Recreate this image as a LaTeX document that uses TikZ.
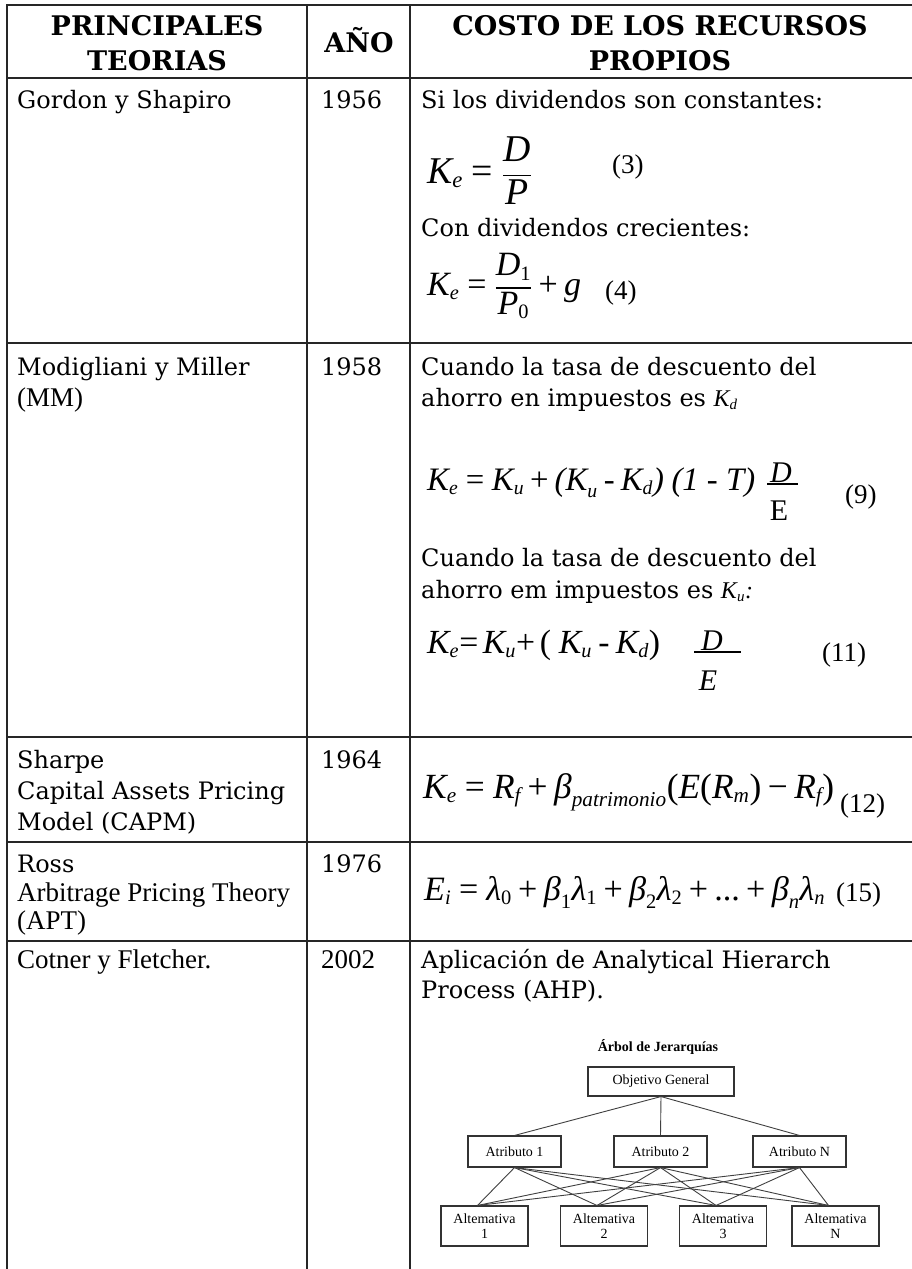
\documentclass[tikz,border=0pt]{standalone}
\usepackage{amsmath}
\usepackage{fontspec}
\setmainfont{DejaVu Serif}
\newfontfamily\tnr{Liberation Serif}
\usetikzlibrary{calc}

% type sizes (1pt = 1 unit of the picture)
\newcommand\bodysize{\fontsize{24}{30}\selectfont}
\newcommand\headsize{\fontsize{27}{35}\selectfont}
\newcommand\tnrsize{\fontsize{27}{30}\selectfont}
\newcommand\fsize{\fontsize{30}{36}\selectfont}
\newcommand\treesize{\fontsize{14}{14.5}\selectfont}
% smaller indices in formulas
\DeclareMathSizes{30}{30}{18}{14}
\DeclareMathSizes{24}{24}{15}{12}
% formula letters in Times-like italic / upright
\newcommand\vi[1]{\text{\tnr\itshape #1}}
\newcommand\vu[1]{\text{\tnr #1}}

\tikzset{
  rule/.style={line width=2.8pt, draw=black!85, line cap=rect},
  cell/.style={inner sep=0pt, anchor=base west, font=\bodysize},
  celltnr/.style={inner sep=0pt, anchor=base west, font=\tnr\tnrsize},
  head/.style={inner sep=0pt, anchor=base, font=\headsize\bfseries},
  fml/.style={inner sep=0pt, anchor=base west, font=\fsize},
  fpart/.style={inner sep=0pt, anchor=base, font=\tnr\fsize},
  eqno/.style={inner sep=0pt, anchor=base west, font=\tnr\tnrsize},
  fbar/.style={line width=1.3pt, draw=black},
  tbox/.style={draw=black!80, line width=1.1pt, inner sep=0pt, font=\tnr\treesize, align=center},
  tlink/.style={draw=black!75, line width=0.9pt},
}

\begin{document}
\begin{tikzpicture}[x=1pt,y=-1pt]
\useasboundingbox (0,0) rectangle (911,1269);
\fill[white] (0,0) rectangle (911,1269);

% ---- table rules ----
\foreach \yy in {5,78,343,737,842,941}
  \draw[rule] (7,\yy) -- (911,\yy);
\foreach \xx in {7,307,410}
  \draw[rule] (\xx,5) -- (\xx,1269);

% ---- header ----
\node[head] (hA1) at (157,35) {PRINCIPALES};
\node[head] (hA2) at (157,70) {TEORIAS};
\node[head] (hB)  at (359,52) {AÑO};
\node[head] (hC1) at (660,35) {COSTO DE LOS RECURSOS};
\node[head] (hC2) at (660,70) {PROPIOS};

% ---- Gordon y Shapiro ----
\node[cell] (g1) at (17,108) {Gordon y Shapiro};
\node[cell] (y1) at (321,108) {1956};
\node[cell] (t1a) at (421,108) {Si los dividendos son constantes:};
\node[fml] (f3) at (427,183) {\resizebox{105pt}{!}{$\vi{K}_{\vi{e}}\mathrel{\vu{=}}\dfrac{\vi{D}}{\vi{P}}$}};
\node[eqno] (n3) at (612,173) {(3)};
\node[cell] (t1b) at (421,236) {Con dividendos crecientes:};
\node[fml] (f4) at (427,295) {\resizebox{154pt}{!}{$\vi{K}_{\vi{e}}\mathrel{\vu{=}}\dfrac{\vi{D}_{\vu{1}}}{\vi{P}_{\vu{0}}}\mathbin{\vu{+}}\vi{g}$}};
\node[eqno] (n4) at (605,299) {(4)};

% ---- Modigliani y Miller ----
\node[cell] (g2a) at (17,375) {Modigliani y Miller};
\node[celltnr] (g2b) at (17,406) {(MM)};
\node[cell] (y2) at (321,375) {1958};
\node[cell] (t2a) at (421,375) {Cuando la tasa de descuento del};
\node[cell] (t2b) at (421,406) {ahorro en impuestos es $\vi{K}_{\vi{d}}$};
\node[fml] (f9) at (427,490) {\resizebox{328pt}{!}{$\vi{K}_{\vi{e}}\mathrel{\vu{=}}\vi{K}_{\vi{u}}\mathbin{\vu{+}}\vi{(K}_{\vi{u}}\mathbin{\vu{-}}\vi{K}_{\vi{d}}\vi{)}\;\vi{(1 - T)}$}};
\node[fpart] (d9) at (781,482) {\itshape D};
\node[fpart] (e9) at (779,520) {E};
\draw[fbar] ($(d9.base)+(-14,2)$) -- ($(d9.base)+(17,2)$);
\node[eqno] (n9) at (845,503) {(9)};
\node[cell] (t2c) at (421,566) {Cuando la tasa de descuento del};
\node[cell] (t2d) at (421,598) {ahorro em impuestos es $\vi{K}_{\vi{u}}$\vi{:}};
\node[fml] (f11) at (427,653) {\resizebox{233pt}{!}{$\vi{K}_{\vi{e}}\vu{=}\,\vi{K}_{\vi{u}}\vu{+}\,\vu{(}\;\vi{K}_{\vi{u}}\mathbin{\vu{-}}\vi{K}_{\vi{d}}\vu{)}$}};
\node[fpart] (d11) at (712,650) {\itshape D};
\node[fpart] (e11) at (708,690) {\itshape E};
\draw[fbar] ($(d11.base)+(-18,2)$) -- ($(d11.base)+(29,2)$);
\node[eqno] (n11) at (822,661) {(11)};

% ---- Sharpe ----
\node[cell] (g3a) at (17,768) {Sharpe};
\node[cell] (g3b) at (17,799) {Capital Assets Pricing};
\node[cell] (g3c) at (17,830) {Model (CAPM)};
\node[cell] (y3) at (321,768) {1964};
\node[fml] (f12) at (423,798) {\resizebox{411pt}{!}{$\vi{K}_{\vi{e}}\mathrel{\vu{=}}\vi{R}_{\vi{f}}\mathbin{\vu{+}}\vi{β}_{\vi{patrimonio}}\vu{(}\vi{E}\vu{(}\vi{R}_{\vi{m}}\vu{)}\mathbin{\vu{−}}\vi{R}_{\vi{f}}\vu{)}$}};
\node[eqno] (n12) at (840,812) {(12)};

% ---- Ross ----
\node[cell] (g4a) at (17,872) {Ross};
\node[celltnr] (g4b) at (17,901) {Arbitrage Pricing Theory};
\node[celltnr] (g4c) at (17,929) {(APT)};
\node[cell] (y4) at (321,872) {1976};
\node[fml] (f15) at (424,900) {\resizebox{401pt}{!}{$\vi{E}_{\vi{i}}\mathrel{\vu{=}}\vi{λ}_{\vu{0}}\mathbin{\vu{+}}\vi{β}_{\vu{1}}\vi{λ}_{\vu{1}}\mathbin{\vu{+}}\vi{β}_{\vu{2}}\vi{λ}_{\vu{2}}\mathbin{\vu{+}}\vu{...}\mathbin{\vu{+}}\vi{β}_{\vi{n}}\vi{λ}_{\vi{n}}$}};
\node[eqno] (n15) at (836,901) {(15)};

% ---- Cotner y Fletcher ----
\node[celltnr] (g5) at (17,968) {Cotner y Fletcher.};
\node[celltnr] (y5) at (321,968) {2002};
\node[cell] (t5a) at (421,968) {Aplicación de Analytical Hierarch};
\node[cell] (t5b) at (421,998) {Process (AHP).};

% hierarchy tree
\node[inner sep=0pt, anchor=base, font=\tnr\bfseries\treesize] (ttl) at (658,1051) {Árbol de Jerarquías};
\node[tbox, minimum width=146pt, minimum height=29pt] (obj) at (661,1081.5) {Objetivo General};
\node[tbox, minimum width=93pt, minimum height=31pt] (at1) at (514.5,1151.5) {Atributo 1};
\node[tbox, minimum width=93pt, minimum height=31pt] (at2) at (660.5,1151.5) {Atributo 2};
\node[tbox, minimum width=93pt, minimum height=31pt] (atn) at (799.5,1151.5) {Atributo N};
\node[tbox, minimum width=87pt, minimum height=40pt] (al1) at (484.5,1226) {Altemativa\\1};
\node[tbox, minimum width=87pt, minimum height=40pt] (al2) at (604,1226) {Altemativa\\2};
\node[tbox, minimum width=87pt, minimum height=40pt] (al3) at (723,1226) {Altemativa\\3};
\node[tbox, minimum width=87pt, minimum height=40pt] (aln) at (835.5,1226) {Altemativa\\N};
\foreach \a in {at1,at2,atn}
  \draw[tlink] (obj.south) -- (\a.north);
\foreach \a in {at1,at2,atn}
  \foreach \b in {al1,al2,al3,aln}
    \draw[tlink] (\a.south) -- ([xshift=-7pt]\b.north);
\end{tikzpicture}
\end{document}
